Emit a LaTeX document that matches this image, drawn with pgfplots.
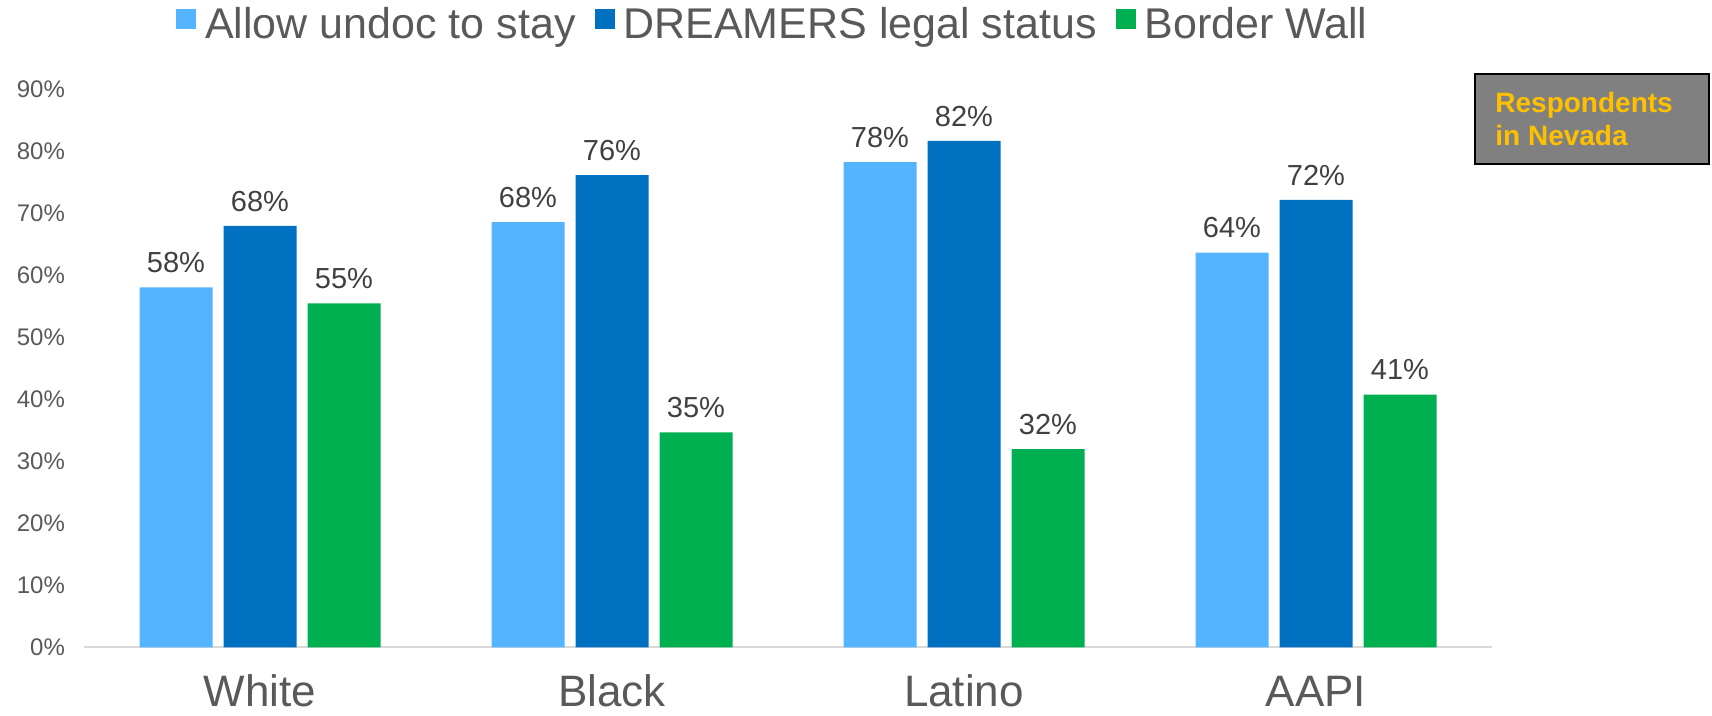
\documentclass[border=0pt]{standalone}
\usepackage{pgfplots}
\pgfplotsset{compat=1.18}
\usepackage{fontspec}
\setmainfont{Liberation Sans}
\definecolor{lblue}{HTML}{55B4FF}
\definecolor{dblue}{HTML}{0070C0}
\definecolor{bgreen}{HTML}{00B050}
\definecolor{tgrey}{HTML}{595959}
\definecolor{lgrey}{HTML}{404040}
\definecolor{boxgrey}{HTML}{808080}
\definecolor{gold}{HTML}{FFC000}
\begin{document}
\begin{tikzpicture}
\useasboundingbox (0,0) rectangle (856pt,358pt);
\begin{axis}[
  at={(42pt,34.25pt)}, anchor=south west,
  scale only axis, width=704pt, height=279pt,
  ybar=5.5pt, bar width=36.5pt,
  xmin=-0.5, xmax=3.5, ymin=0, ymax=90,
  xtick={0,1,2,3}, xticklabels={White,Black,Latino,AAPI},
  ytick={0,10,...,90},
  yticklabel={\pgfmathprintnumber{\tick}\%},
  /pgf/number format/assume math mode=true,
  axis x line=bottom, axis y line=left,
  x axis line style={draw=lgrey!20, line width=1pt, -},
  y axis line style={draw=none},
  major tick length=0pt,
  tick style={draw=none},
  yticklabel style={font=\fontsize{12}{13}\selectfont, text=tgrey, anchor=east, xshift=-6pt},
  xticklabel style={font=\fontsize{22}{26}\selectfont, text=tgrey, anchor=base, inner sep=0pt, yshift=-29.5pt},
  point meta=explicit symbolic,
  nodes near coords,
  every node near coord/.append style={font=\fontsize{14.5}{16}\selectfont, text=lgrey, anchor=south, inner sep=0pt, yshift=7pt},
  legend columns=3,
  legend style={at={(0.4886,1.1174)}, anchor=center, draw=none, fill=none,
    font=\fontsize{21.5}{25}\selectfont, text=tgrey, nodes={inner sep=0pt},
    /tikz/every odd column/.append style={column sep=4.4pt},
    /tikz/every even column/.append style={column sep=9.5pt}},
  legend image code/.code={\fill[#1] (0pt,-2.5pt) rectangle (10pt,7.5pt);},
]
\addplot[fill=lblue, draw=none] coordinates {(0,58.1) [58\%] (1,68.6) [68\%] (2,78.3) [78\%] (3,63.7) [64\%]};
\addplot[fill=dblue, draw=none] coordinates {(0,68.0) [68\%] (1,76.2) [76\%] (2,81.7) [82\%] (3,72.2) [72\%]};
\addplot[fill=bgreen, draw=none] coordinates {(0,55.5) [55\%] (1,34.7) [35\%] (2,32.0) [32\%] (3,40.8) [41\%]};
\legend{Allow undoc to stay, DREAMERS legal status, Border Wall}
\end{axis}
\node[draw=black, line width=0.8pt, fill=boxgrey, minimum width=117pt, minimum height=45pt, inner sep=0pt] at (796pt,298.5pt) {};
\node[anchor=west, text=gold, font=\fontsize{14}{16.5}\selectfont\bfseries, align=left, inner sep=0pt] at (747.5pt,298.5pt) {Respondents\\in Nevada};
\end{tikzpicture}
\end{document}
